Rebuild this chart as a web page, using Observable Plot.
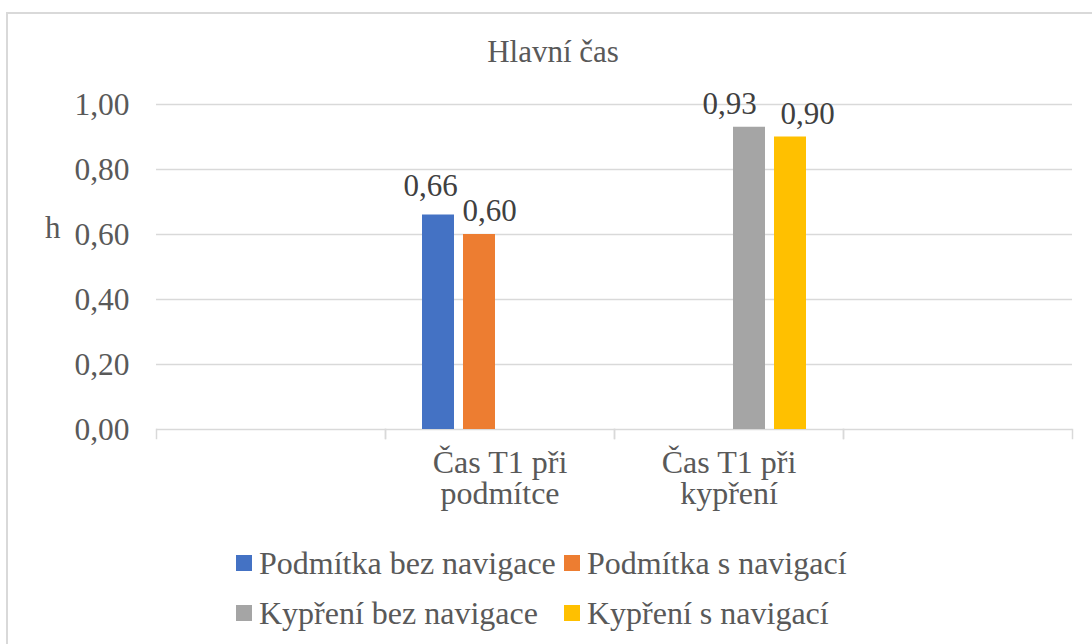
<!DOCTYPE html>
<html>
<head>
<meta charset="utf-8">
<script src="https://cdn.jsdelivr.net/npm/d3@7"></script>
<script src="https://cdn.jsdelivr.net/npm/@observablehq/plot@0.6"></script>
<style>
  html, body { margin: 0; padding: 0; background: #fff; }
  #wrap { position: relative; width: 1092px; height: 644px; overflow: hidden;
          font-family: "Liberation Serif", "Times New Roman", serif; color: #595959; }
  #border { position: absolute; left: 6px; top: 12px; width: 1300px; height: 900px;
            border-left: 2px solid #d9d9d9; border-top: 2px solid #d9d9d9; }
  #title { position: absolute; left: 0; top: 36px; width: 1106px; text-align: center;
           font-size: 31px; line-height: 31px; white-space: nowrap; }
  #ylabel { position: absolute; left: 45px; top: 212px; font-size: 31px; line-height: 31px; }
  #chart { position: absolute; left: 0; top: 0; }
  #chart svg, #chart svg text, #chart svg tspan { font-family: "Liberation Serif", "Times New Roman", serif !important; }
  .li { position: absolute; font-size: 32px; line-height: 32px; white-space: nowrap; }
  .li .sw { position: absolute; left: 0; top: 8px; width: 16px; height: 16px; }
  .li .tx { position: absolute; left: 23px; top: 0; }
</style>
</head>
<body>
<div id="wrap">
  <div id="border"></div>
  <div id="chart"></div>
  <div id="title"></div>
  <div id="ylabel"></div>
  <div id="legend"></div>
</div>
<script>
// ---- data ----
const title = "Hlavní čas";
const yLabel = "h";
const categories = ["", "Čas T1 při\npodmítce", "Čas T1 při\nkypření", " "];
const series = ["Podmítka bez navigace", "Podmítka s navigací", "Kypření bez navigace", "Kypření s navigací"];
const colors = ["#4472C4", "#ED7D31", "#A5A5A5", "#FFC000"];
const barCategory = ["Čas T1 při\npodmítce", "Čas T1 při\npodmítce", "Čas T1 při\nkypření", "Čas T1 při\nkypření"];
const barSeries = ["Podmítka bez navigace", "Podmítka s navigací", "Kypření bez navigace", "Kypření s navigací"];
const barValues = [0.66, 0.60, 0.93, 0.90];
const yTicks = [0, 0.2, 0.4, 0.6, 0.8, 1.0];

// ---- build ----
const rows = barValues.map((v, i) => ({category: barCategory[i], series: barSeries[i], value: v}));
const gridRows = categories.flatMap(c => yTicks.map(t => ({category: c, tick: t})));
const fmt = d => d.toFixed(2).replace(".", ",");
const FONT = "'Liberation Serif', 'Times New Roman', serif";

// label nudges (Excel-style overlap avoidance), per series index
const labelStyle = [
  {dx: -8, dy: -19},
  {dx: 10, dy: -14},
  {dx: -20, dy: -13},
  {dx: 17, dy: -13}
];

const labelMarks = series.map((s, i) =>
  Plot.text(rows.filter(r => r.series === s), {
    fx: "category", x: "series", y: "value", text: d => fmt(d.value),
    lineAnchor: "bottom", dx: labelStyle[i].dx, dy: labelStyle[i].dy,
    fill: "#404040", fontSize: 31, fontFamily: FONT
  })
);

const plot = Plot.plot({
  width: 1092,
  height: 520,
  marginTop: 104,
  marginBottom: 91,
  marginLeft: 155,
  marginRight: 19,
  style: {fontFamily: FONT, fontSize: "31px", color: "#595959", background: "transparent", overflow: "visible"},
  fx: {domain: categories, padding: 0, label: null},
  x: {domain: series, paddingInner: 0.216, paddingOuter: 0.87, axis: null},
  y: {domain: [0, 1], label: null},
  color: {domain: series, range: colors},
  marks: [
    Plot.ruleY(gridRows, {fx: "category", y: "tick", stroke: "#d9d9d9", strokeWidth: 1.5}),
    Plot.frame({anchor: "left", insetTop: 325, insetBottom: -9, stroke: "#d9d9d9", strokeOpacity: 1, strokeWidth: 1.5}),
    Plot.frame({anchor: "right", insetTop: 325, insetBottom: -9, stroke: "#d9d9d9", strokeOpacity: 1, strokeWidth: 1.5}),
    Plot.barY(rows, {fx: "category", x: "series", y: "value", fill: "series"}),
    ...labelMarks,
    Plot.axisY(yTicks, {tickSize: 0, tickPadding: 27, tickFormat: fmt, label: null, fill: "#595959", fontFamily: FONT, fontSize: 31.5}),
    Plot.axisFx({anchor: "bottom", tickSize: 0, tickPadding: 21, label: null, lineHeight: 0.97, fill: "#595959", fontFamily: FONT, fontSize: 32})
  ]
});
document.getElementById("chart").appendChild(plot);
document.getElementById("title").textContent = title;
document.getElementById("ylabel").textContent = yLabel;

// legend (2 x 2 grid)
const legendPos = [[236, 547], [564, 547], [236, 597], [564, 597]];
const legend = document.getElementById("legend");
series.forEach((s, i) => {
  const item = document.createElement("div");
  item.className = "li";
  item.style.left = legendPos[i][0] + "px";
  item.style.top = legendPos[i][1] + "px";
  const sw = document.createElement("span");
  sw.className = "sw";
  sw.style.background = colors[i];
  const tx = document.createElement("span");
  tx.className = "tx";
  tx.textContent = s;
  item.appendChild(sw);
  item.appendChild(tx);
  legend.appendChild(item);
});
</script>
</body>
</html>
